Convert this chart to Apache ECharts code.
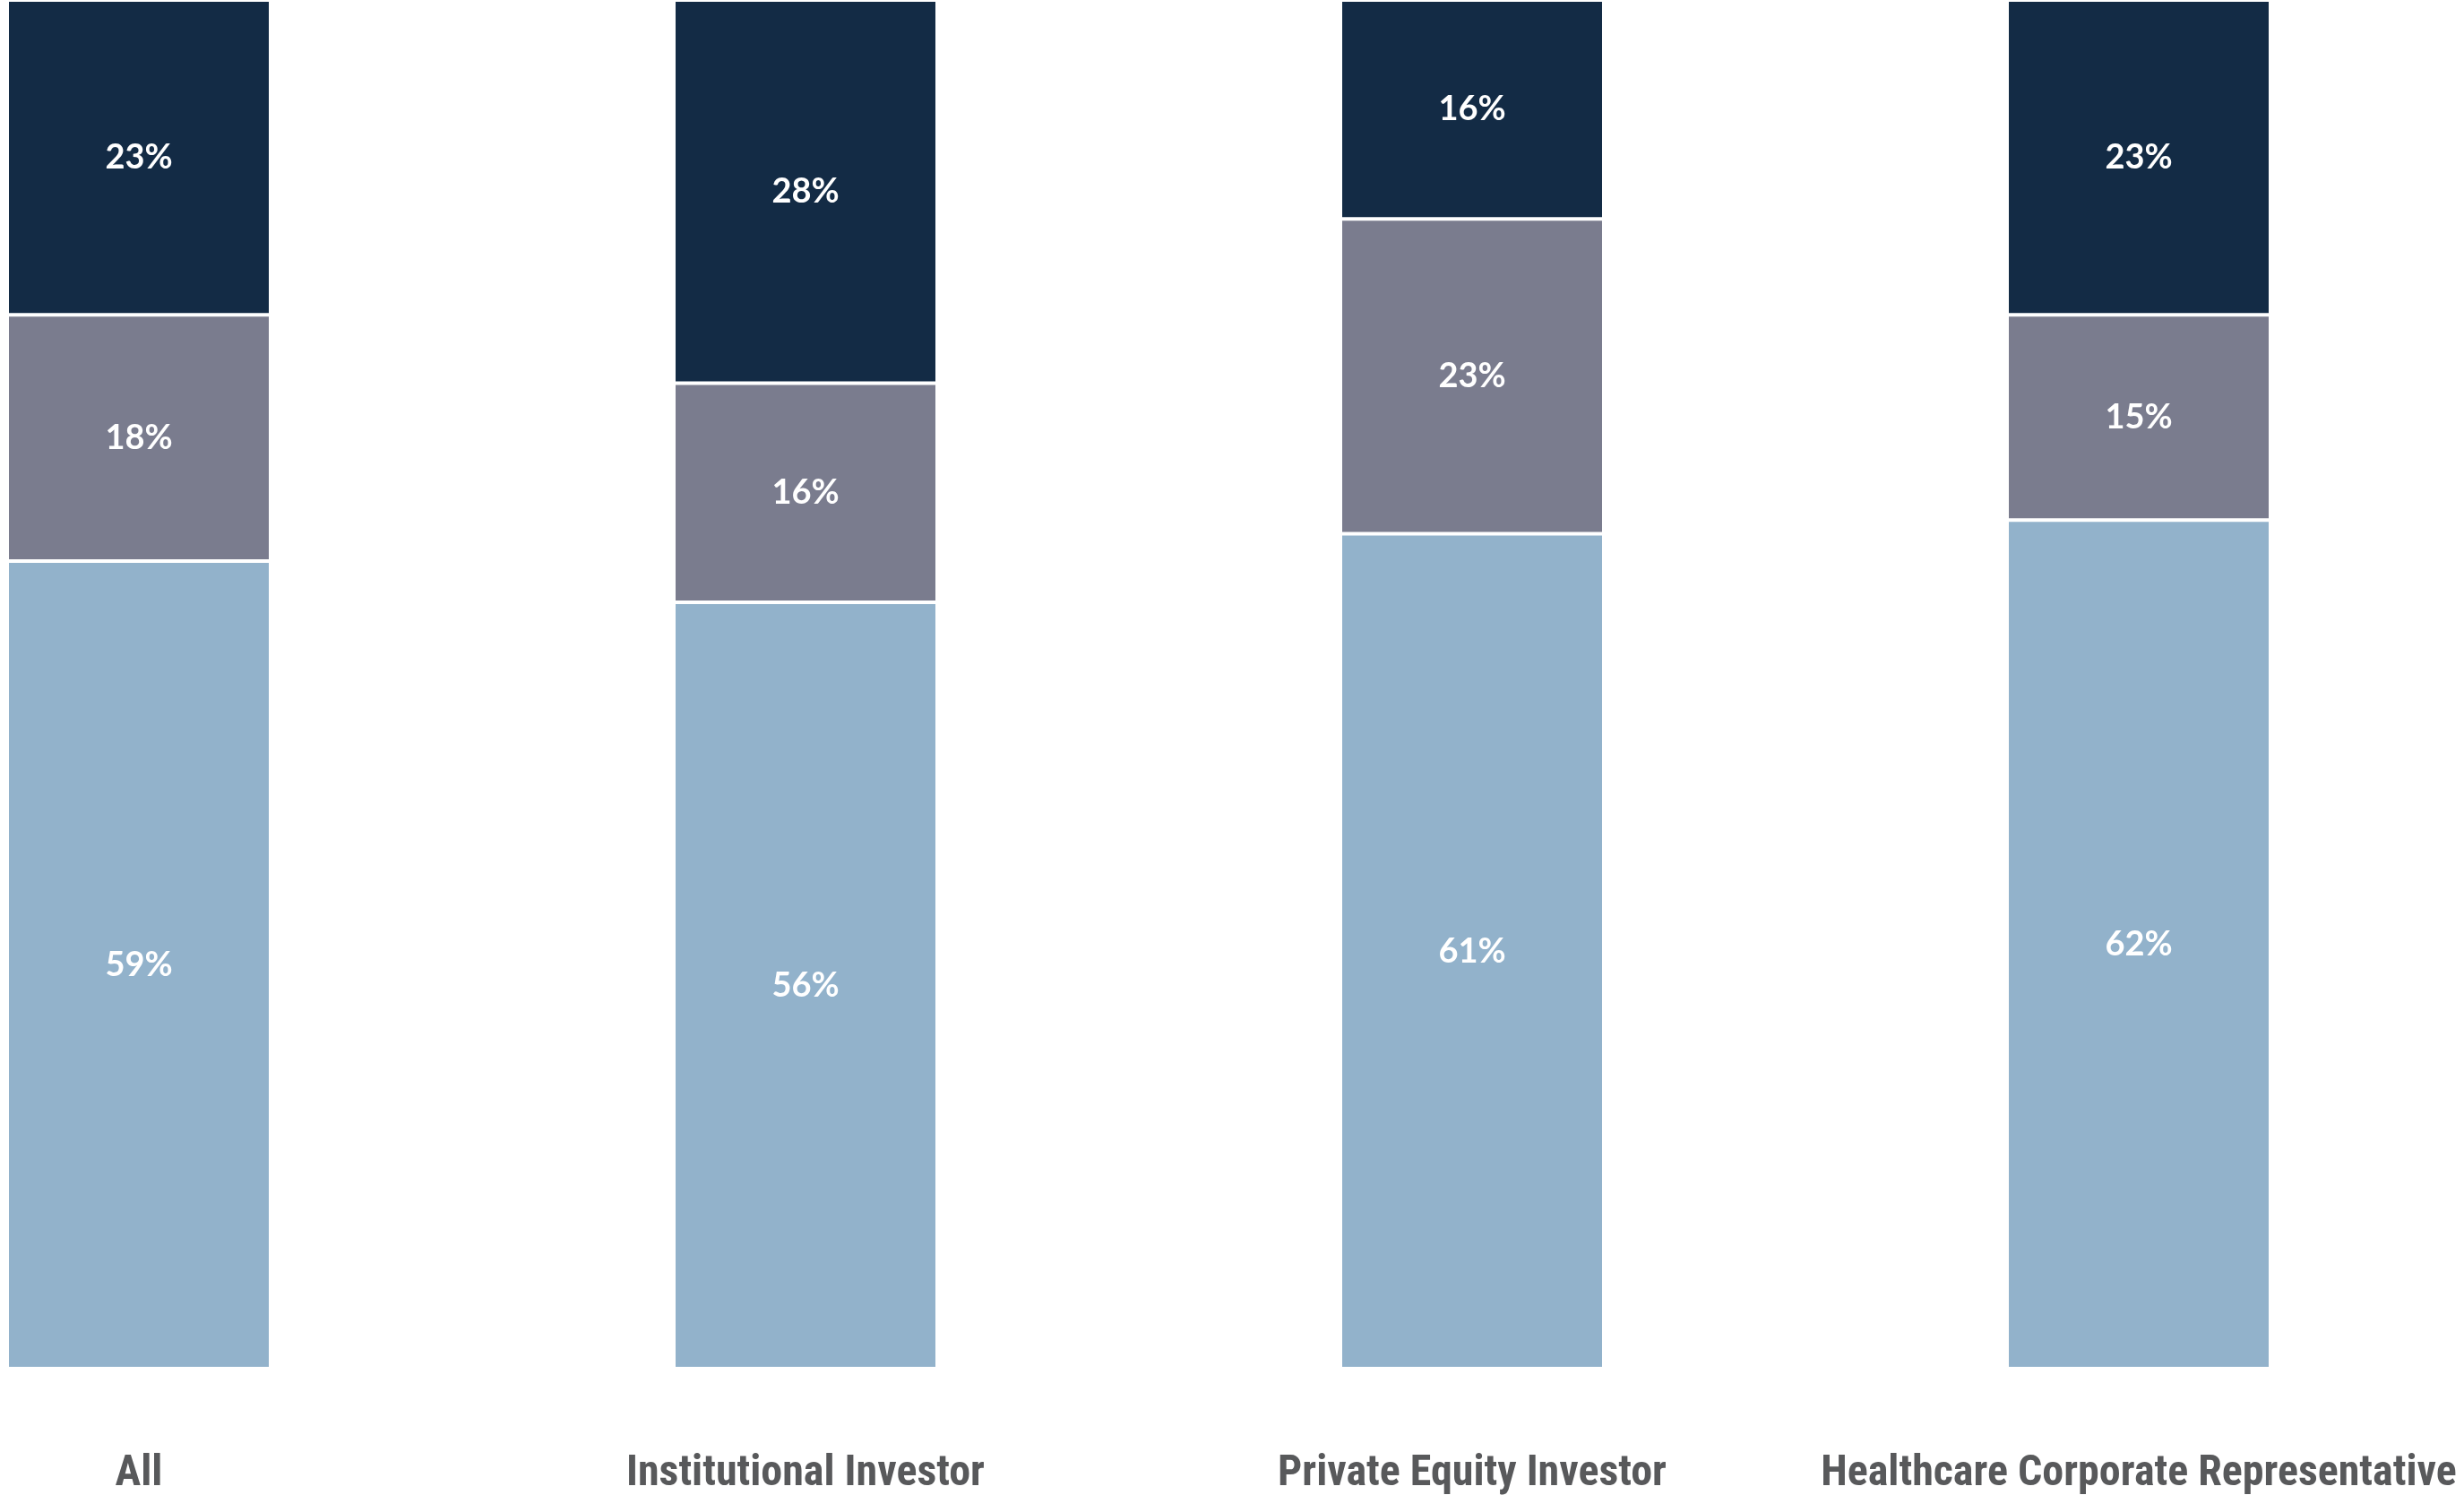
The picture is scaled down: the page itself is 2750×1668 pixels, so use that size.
<!DOCTYPE html>
<html>
<head>
<meta charset="utf-8">
<title>Stacked bars</title>
<script src="https://cdn.jsdelivr.net/npm/echarts@6/dist/echarts.min.js"></script>
<style>
  html, body { margin: 0; padding: 0; background: #fff; }
  #chart { width: 2750px; height: 1668px; }
</style>
</head>
<body>
<div id="chart"></div>
<script>
// categories along the x axis
const categories = ["All", "Institutional Investor", "Private Equity Investor", "Healthcare Corporate Representative"];
// stacked shares, bottom to top (percent)
const lowerShare = [59, 56, 61, 62];
const middleShare = [18, 16, 23, 15];
const upperShare = [23, 28, 16, 23];

const colors = ["#92b2cb", "#7a7c8e", "#132b45"];

const myChart = echarts.init(document.getElementById("chart"));

function segment(name, data, color) {
  return {
    name: name,
    type: "bar",
    stack: "total",
    barWidth: 294,
    clip: false,
    data: data,
    itemStyle: {
      color: color,
      borderColor: "#ffffff",
      borderWidth: 2
    },
    label: {
      show: true,
      position: "inside",
      formatter: "{c}%",
      color: "#ffffff",
      fontFamily: "Lato",
      fontWeight: "bold",
      fontSize: 38
    }
  };
}

myChart.setOption({
  animation: false,
  backgroundColor: "#ffffff",
  grid: {
    left: 155,
    right: 363,
    top: 0,
    bottom: 141,
    outerBoundsMode: "none"
  },
  xAxis: {
    type: "category",
    boundaryGap: false,
    data: categories,
    axisLine: { show: false },
    axisTick: { show: false },
    axisLabel: {
      interval: 0,
      margin: 94,
      color: "#58595b",
      fontFamily: '"Roboto Condensed", "DejaVu Sans Condensed", sans-serif',
      fontWeight: "bold",
      fontSize: 48
    }
  },
  yAxis: {
    type: "value",
    min: 0,
    max: 100,
    show: false,
    splitLine: { show: false }
  },
  series: [
    segment("Lower", lowerShare, colors[0]),
    segment("Middle", middleShare, colors[1]),
    segment("Upper", upperShare, colors[2])
  ]
});

window.addEventListener("resize", () => {
  myChart.resize();
});
</script>
</body>
</html>
